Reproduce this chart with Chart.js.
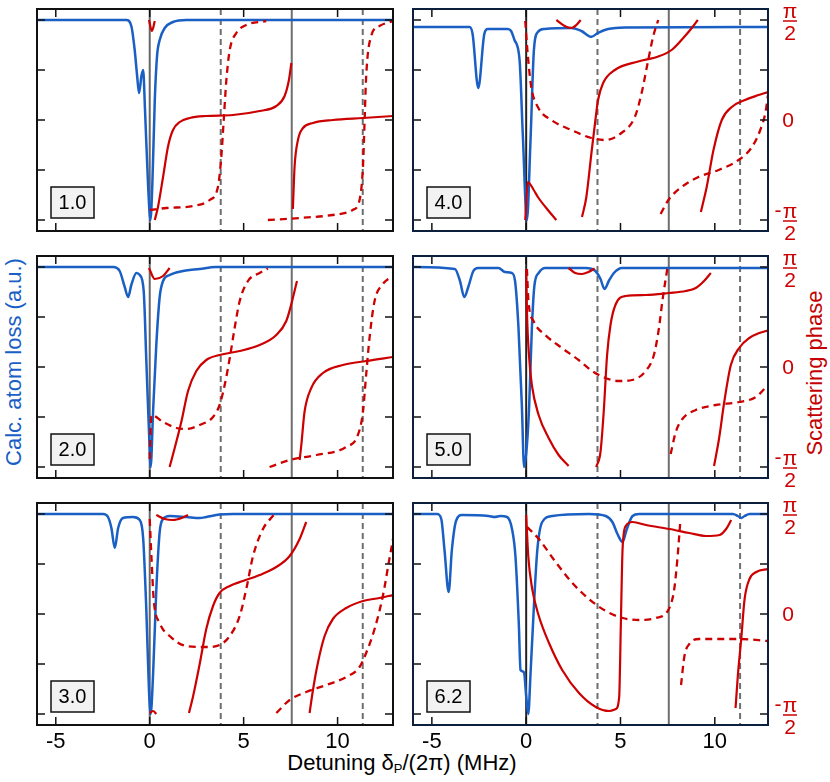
<!DOCTYPE html>
<html><head><meta charset="utf-8">
<script src="https://cdn.jsdelivr.net/npm/chart.js@4.4.1/dist/chart.umd.min.js"></script>
<style>
html,body{margin:0;padding:0;background:#fff}
body{width:830px;height:782px;position:relative;overflow:hidden;font-family:"Liberation Sans",Arial,Helvetica,sans-serif}
.cv{position:absolute}
.t{position:absolute;white-space:nowrap;font-size:22px;line-height:1}
</style></head><body>
<div class="t" style="left:14px;top:362px;color:#1a5fc4;transform:translate(-50%,-50%) rotate(-90deg)">Calc. atom loss (a.u.)</div>
<div class="t" style="left:815px;top:373px;color:#c40000;transform:translate(-50%,-50%) rotate(-90deg)">Scattering phase</div>
<div class="t" style="left:402px;top:763px;color:#000;transform:translate(-50%,-50%)">Detuning δ<sub style="font-size:13px;vertical-align:-3px">P</sub>/(2π) (MHz)</div>
<script>
// ---- shared axis values ----
const xTicks = [-5, 0, 5, 10];
const phaseTicks = [-1, -0.5, 0, 0.5, 1];           // phase in units of π/2
const phaseLabels = {'1':'π/2', '0':'0', '-1':'-π/2'};
const refLines = [0, 3.78, 7.56, 11.34];            // MHz
const panelLabels = ['1.0', '2.0', '3.0', '4.0', '5.0', '6.2'];

// ---- panel 1.0 ----
const p1Loss = [[-6,1],[-1.24,1],[-0.98,0.97],[-0.8,0.85],[-0.67,0.72],[-0.57,0.635],[-0.44,0.72],[-0.35,0.75],[-0.25,0.55],[-0.09,0.18],[0.04,0],[0.14,0.18],[0.27,0.6],[0.39,0.82],[0.53,0.9],[0.8,0.96],[1.24,0.99],[1.95,1],[13,1]];
const p1SolidA = [[-0.04,1.0],[0.12,0.89],[0.27,0.99]];
const p1SolidB = [[0.27,-1],[0.44,-0.87],[0.71,-0.57],[0.98,-0.26],[1.24,-0.1],[1.6,-0.02],[2.13,0.02],[3.0,0.04],[4.43,0.05],[5.85,0.09],[6.74,0.14],[7.18,0.24],[7.41,0.4],[7.54,0.57]];
const p1SolidC = [[7.62,-0.89],[7.71,-0.47],[7.89,-0.2],[8.16,-0.08],[8.69,-0.03],[9.75,0],[11.35,0.02],[12.95,0.04]];
const p1DashA = [[0,-0.9],[0.89,-0.88],[2.3,-0.86],[3.19,-0.8],[3.63,-0.67],[3.81,-0.37],[3.94,0],[4.08,0.4],[4.26,0.7],[4.61,0.87],[5.14,0.95],[6.2,0.99]];
const p1DashB = [[6.29,-1],[7.98,-0.98],[9.75,-0.95],[10.8,-0.9],[11.17,-0.8],[11.35,-0.47],[11.44,0],[11.52,0.43],[11.79,0.84],[12.23,0.94],[12.95,0.99]];

// ---- panel 2.0 ----
const p2Loss = [[-6,1],[-1.95,1],[-1.6,0.98],[-1.33,0.9],[-1.15,0.85],[-0.98,0.91],[-0.71,0.97],[-0.53,0.96],[-0.32,0.88],[-0.18,0.53],[-0.04,0.18],[0.05,0],[0.18,0.28],[0.35,0.61],[0.53,0.85],[0.71,0.93],[1.06,0.96],[1.77,0.98],[2.66,0.99],[3.5,1],[13,1]];
const p2SolidA = [[-0.04,0.99],[0.27,0.88],[0.71,0.91],[1.06,0.99]];
const p2SolidB = [[1.06,-1],[1.33,-0.81],[1.68,-0.55],[2.04,-0.24],[2.48,-0.04],[3.01,0.07],[3.72,0.12],[4.79,0.16],[5.85,0.22],[6.74,0.32],[7.27,0.46],[7.54,0.63],[7.71,0.76],[7.84,0.86]];
const p2SolidC = [[7.98,-0.93],[8.07,-0.78],[8.24,-0.45],[8.6,-0.21],[9.22,-0.06],[10.28,0.02],[11.52,0.06],[12.95,0.1]];
const p2DashA = [[0,-0.92],[0.05,-0.6],[0.09,-0.48],[0.71,-0.55],[1.42,-0.61],[1.95,-0.62],[2.66,-0.58],[3.37,-0.5],[3.72,-0.38],[3.99,-0.18],[4.26,0.09],[4.52,0.39],[4.79,0.66],[5.23,0.86],[5.85,0.94],[6.29,0.985]];
const p2DashB = [[6.38,-1],[7.45,-0.93],[8.87,-0.88],[10.46,-0.8],[11.08,-0.68],[11.35,-0.45],[11.52,-0.08],[11.7,0.29],[11.97,0.66],[12.41,0.83],[12.85,0.9]];

// ---- panel 3.0 ----
const p3Loss = [[-6,1],[-2.48,1],[-2.22,0.985],[-2.04,0.93],[-1.86,0.83],[-1.68,0.93],[-1.42,0.98],[-0.89,0.985],[-0.53,0.97],[-0.35,0.88],[-0.18,0.52],[-0.04,0.12],[0.05,0],[0.18,0.2],[0.35,0.62],[0.53,0.91],[0.71,0.975],[1.06,0.99],[1.95,0.985],[2.66,0.98],[3.01,0.985],[3.72,0.997],[4.43,1],[13,1]];
const p3SolidA = [[0.35,0.99],[0.8,0.95],[1.24,0.94],[1.7,0.96],[2.04,0.99]];
const p3SolidZ = [[0,-0.99],[0.18,-0.97],[0.35,-1.0]];
const p3SolidB = [[2.09,-0.99],[2.3,-0.83],[2.66,-0.5],[3.01,-0.15],[3.37,0.08],[3.72,0.21],[4.26,0.28],[4.96,0.33],[5.85,0.39],[6.74,0.47],[7.45,0.58],[7.98,0.75],[8.33,0.92]];
const p3SolidC = [[8.51,-0.99],[8.69,-0.76],[8.95,-0.49],[9.31,-0.22],[9.75,-0.05],[10.46,0.06],[11.35,0.13],[12.23,0.16],[12.95,0.19]];
const p3DashA = [[0,0.95],[0.09,0.58],[0.21,0.15],[0.53,-0.09],[1.06,-0.22],[1.95,-0.32],[3.01,-0.33],[3.72,-0.31],[4.26,-0.22],[4.79,-0.02],[5.14,0.25],[5.5,0.58],[6.03,0.85],[6.65,1.0]];
const p3DashB = [[6.74,-0.99],[7.45,-0.86],[8.33,-0.78],[9.4,-0.71],[10.46,-0.63],[11.17,-0.53],[11.52,-0.39],[11.97,-0.15],[12.41,0.18],[12.73,0.52],[12.95,0.75]];

// ---- panel 4.0 ----
const p4Loss = [[-6,0.965],[-3.0,0.965],[-2.84,0.93],[-2.54,0.66],[-2.22,0.93],[-2.04,0.955],[-0.98,0.955],[-0.8,0.945],[-0.62,0.9],[-0.35,0.8],[-0.18,0.43],[0.04,0],[0.23,0.4],[0.41,0.85],[0.62,0.94],[0.98,0.955],[2.39,0.96],[2.93,0.945],[3.46,0.916],[3.81,0.936],[4.34,0.955],[5.23,0.963],[13,0.965]];
const p4SolidA = [[1.6,1.0],[2.04,0.94],[2.39,0.92],[2.66,0.95],[2.89,1.0]];
const p4SolidB = [[-0.05,-1.0],[0.09,-0.62],[0.4,-0.7],[0.62,-0.77],[1.15,-0.9],[1.6,-1.0]];
const p4SolidC = [[2.96,-0.97],[3.19,-0.77],[3.46,-0.33],[3.67,0],[3.81,0.2],[4.08,0.37],[4.7,0.5],[5.94,0.585],[7.0,0.635],[7.71,0.7],[8.42,0.84],[8.78,0.92],[9.1,1.0]];
const p4SolidD = [[9.26,-0.92],[9.57,-0.67],[9.93,-0.3],[10.37,0],[10.9,0.13],[11.6,0.2],[12.32,0.25],[12.82,0.28]];
const p4DashA = [[-0.05,0.99],[0.09,0.64],[0.27,0.33],[0.62,0.13],[1.33,0],[2.39,-0.1],[3.46,-0.18],[4.17,-0.2],[5.05,-0.13],[5.76,0.03],[6.12,0.27],[6.47,0.6],[6.74,0.84],[7.0,1.0]];
const p4DashB = [[7.13,-0.94],[7.54,-0.8],[8.24,-0.67],[9.13,-0.57],[10.2,-0.5],[11.26,-0.4],[11.97,-0.27],[12.41,-0.1],[12.68,0.07],[12.82,0.25]];

// ---- panel 5.0 ----
const p5Loss = [[-6,1],[-3.78,0.99],[-3.51,0.93],[-3.28,0.85],[-3.07,0.9],[-2.8,0.98],[-2.54,0.995],[-1.47,0.995],[-1.12,0.975],[-0.76,0.97],[-0.59,0.93],[-0.41,0.7],[-0.23,0.31],[-0.11,0],[0.04,0.11],[0.16,0.31],[0.3,0.69],[0.44,0.91],[0.66,0.97],[1.01,0.995],[3.14,0.995],[3.67,0.98],[3.94,0.94],[4.15,0.89],[4.38,0.93],[4.65,0.97],[5.09,0.995],[13,0.995]];
const p5SolidA = [[2.25,0.99],[2.6,0.94],[2.96,0.93],[3.3,0.95],[3.63,0.985]];
const p5SolidB = [[0,0.98],[0.04,0.56],[0.16,0.09],[0.3,-0.18],[0.66,-0.48],[1.19,-0.71],[1.72,-0.88],[2.25,-0.99]];
const p5SolidC = [[3.71,-1],[3.94,-0.85],[4.11,-0.45],[4.29,0.12],[4.47,0.42],[4.73,0.62],[5.27,0.71],[6.33,0.72],[7.57,0.74],[8.46,0.76],[8.99,0.79],[9.43,0.86],[9.79,0.94]];
const p5SolidD = [[9.96,-0.99],[10.23,-0.71],[10.5,-0.35],[10.85,0.02],[11.29,0.19],[11.83,0.29],[12.36,0.34],[12.82,0.365]];
const p5DashA = [[0.04,0.98],[0.12,0.66],[0.39,0.46],[1.01,0.32],[1.9,0.19],[2.78,0.07],[3.49,-0.04],[4.2,-0.11],[4.91,-0.14],[5.62,-0.13],[6.33,-0.04],[6.77,0.12],[7.04,0.39],[7.22,0.66],[7.48,0.98]];
const p5DashB = [[7.66,-0.87],[7.93,-0.65],[8.28,-0.52],[8.99,-0.43],[10.05,-0.38],[11.29,-0.35],[12.18,-0.3],[12.82,-0.18]];

// ---- panel 6.2 ----
const p6Loss = [[-6,1],[-4.73,1],[-4.5,0.975],[-4.33,0.82],[-4.11,0.61],[-3.94,0.82],[-3.72,0.965],[-3.4,0.995],[-1.99,0.99],[-1.67,0.985],[-1.37,0.99],[-1.01,0.985],[-0.74,0.92],[-0.57,0.79],[-0.39,0.45],[-0.3,0.22],[-0.12,0.21],[0,0.09],[0.11,0],[0.23,0.2],[0.41,0.54],[0.59,0.82],[0.85,0.96],[1.38,0.99],[3.33,1],[4.22,0.99],[4.57,0.96],[4.84,0.9],[5.11,0.86],[5.32,0.92],[5.64,0.99],[5.99,1],[10.96,1],[11.22,0.99],[11.4,0.98],[11.58,0.99],[11.84,1],[13,1]];
const p6SolidA = [[0,0.99],[0.11,0.58],[0.32,0.25],[0.67,-0.02],[1.21,-0.29],[1.91,-0.56],[2.8,-0.79],[3.69,-0.93],[4.4,-0.97],[4.75,-0.95],[4.93,-0.83],[5.02,-0.09],[5.11,0.65],[5.28,0.88],[5.64,0.92],[6.35,0.89],[7.59,0.85],[8.65,0.81],[9.54,0.78],[10.25,0.79],[10.6,0.85],[10.87,0.94]];
const p6SolidB = [[11.1,-0.94],[11.22,-0.62],[11.4,-0.25],[11.58,0.15],[11.84,0.35],[12.2,0.42],[12.82,0.45]];
const p6DashA = [[0.05,0.87],[0.67,0.75],[1.56,0.52],[2.45,0.31],[3.33,0.15],[4.22,0.03],[5.11,-0.04],[5.99,-0.06],[6.88,-0.04],[7.59,0.06],[7.85,0.25],[8.03,0.58],[8.16,0.9]];
const p6DashB = [[8.21,-0.71],[8.39,-0.42],[8.65,-0.3],[9.18,-0.25],[10.43,-0.25],[11.31,-0.25],[12.82,-0.27]];

// ---- styling / layout ----
const BLUE = '#1a5fc4', RED = '#cc0000', GRAY = '#6e6e6e';
const FONT = '"Liberation Sans", Arial, Helvetica, sans-serif';
const PAD = 4;
const panels = [
  {loss:p1Loss, solid:[p1SolidA,p1SolidB,p1SolidC], dash:[p1DashA,p1DashB], col:0, row:0},
  {loss:p2Loss, solid:[p2SolidA,p2SolidB,p2SolidC], dash:[p2DashA,p2DashB], col:0, row:1},
  {loss:p3Loss, solid:[p3SolidA,p3SolidZ,p3SolidB,p3SolidC], dash:[p3DashA,p3DashB], col:0, row:2},
  {loss:p4Loss, solid:[p4SolidA,p4SolidB,p4SolidC,p4SolidD], dash:[p4DashA,p4DashB], col:1, row:0},
  {loss:p5Loss, solid:[p5SolidA,p5SolidB,p5SolidC,p5SolidD], dash:[p5DashA,p5DashB], col:1, row:1},
  {loss:p6Loss, solid:[p6SolidA,p6SolidB], dash:[p6DashA,p6DashB], col:1, row:2},
];
const colGeom = [{left:37, w:356, xmax:12.95, frame:'#111', zero:'#666'}, {left:413, w:355, xmax:12.82, frame:'#0d1f3f', zero:'#222'}];
const rowTops = [9, 256, 503];
const PH = 222;

function drawFrac(ctx, cx, y, neg){
  ctx.font = '21px ' + FONT;
  ctx.fillStyle = RED; ctx.strokeStyle = RED;
  ctx.textAlign = 'center';
  ctx.textBaseline = 'alphabetic';
  ctx.fillText('π', cx, y - 2);
  ctx.textBaseline = 'top';
  ctx.fillText('2', cx, y + 4);
  ctx.lineWidth = 1.5; ctx.setLineDash([]);
  ctx.beginPath(); ctx.moveTo(cx - 7, y + 1); ctx.lineTo(cx + 7, y + 1); ctx.stroke();
  if (neg){ ctx.textBaseline = 'middle'; ctx.fillText('-', cx - 12, y - 9); }
}

const deco = {
  id: 'deco',
  beforeDatasetsDraw(chart, args, o){
    const {ctx, chartArea:a, scales:{x}} = chart;
    ctx.save();
    refLines.forEach((v, i) => {
      const px = x.getPixelForValue(v);
      ctx.beginPath();
      ctx.lineWidth = 2;
      ctx.strokeStyle = i === 0 ? o.zero : GRAY;
      ctx.setLineDash(i % 2 ? [6, 4] : []);
      ctx.moveTo(px, a.top); ctx.lineTo(px, a.bottom); ctx.stroke();
    });
    ctx.restore();
  },
  afterDatasetsDraw(chart, args, o){
    const {ctx, chartArea:a, scales:{x, yP}} = chart;
    ctx.save();
    ctx.setLineDash([]);
    ctx.strokeStyle = '#111'; ctx.lineWidth = 1.5;
    const seg = (x1,y1,x2,y2) => { ctx.beginPath(); ctx.moveTo(x1,y1); ctx.lineTo(x2,y2); ctx.stroke(); };
    xTicks.forEach(v => { const px = x.getPixelForValue(v); seg(px, a.top, px, a.top + 8); seg(px, a.bottom, px, a.bottom - 8); });
    phaseTicks.forEach(v => { const py = yP.getPixelForValue(v); seg(a.left, py, a.left + 8, py); seg(a.right, py, a.right - 8, py); });
    ctx.strokeStyle = o.frame; ctx.lineWidth = 2;
    ctx.strokeRect(a.left, a.top, a.right - a.left, a.bottom - a.top);
    // panel label box
    const bx = a.left + 14, bw = 43, bh = 31, by = a.bottom - 13 - bh;
    ctx.fillStyle = '#f2f2f2'; ctx.fillRect(bx, by, bw, bh);
    ctx.strokeStyle = '#111'; ctx.lineWidth = 1.5; ctx.strokeRect(bx, by, bw, bh);
    ctx.fillStyle = '#000'; ctx.font = '20px ' + FONT; ctx.textAlign = 'center'; ctx.textBaseline = 'middle';
    ctx.fillText(o.label, bx + bw / 2, by + bh / 2 + 1);
    // right phase labels
    if (o.rightLabels){
      const cx = a.right + 22;
      drawFrac(ctx, cx, yP.getPixelForValue(1), false);
      ctx.font = '21px ' + FONT; ctx.fillStyle = RED; ctx.textAlign = 'center'; ctx.textBaseline = 'middle';
      ctx.fillText(phaseLabels['0'], cx - 2, yP.getPixelForValue(0) + 1);
      drawFrac(ctx, cx, yP.getPixelForValue(-1), true);
    }
    ctx.restore();
  }
};

panels.forEach((p, idx) => {
  const g = colGeom[p.col];
  const bottom = p.row === 2, right = p.col === 1;
  const extraR = right ? 50 : 0;
  const extraB = bottom ? 34 : 0;
  const labelRoom = (right && !bottom) ? 22 : 0;   // room below the plot for the -π/2 label
  const W = g.w + 2 * PAD + extraR, H = PH + 2 * PAD + extraB + labelRoom;
  const cv = document.createElement('canvas');
  cv.className = 'cv';
  cv.width = W; cv.height = H;
  cv.style.width = W + 'px'; cv.style.height = H + 'px';
  cv.style.left = (g.left - PAD) + 'px'; cv.style.top = (rowTops[p.row] - PAD) + 'px';
  document.body.appendChild(cv);
  const common = {pointRadius:0, fill:false, cubicInterpolationMode:'monotone', borderCapStyle:'butt', borderJoinStyle:'round'};
  const datasets = [
    ...p.solid.map(s => ({...common, data:s, yAxisID:'yP', borderColor:RED, borderWidth:2.2})),
    ...p.dash.map(s => ({...common, data:s, yAxisID:'yP', borderColor:RED, borderWidth:2.3, borderDash:[7,5]})),
    {...common, data:p.loss, yAxisID:'yL', borderColor:BLUE, borderWidth:2.5},
  ];
  new Chart(cv, {
    type: 'line',
    data: {datasets},
    options: {
      responsive:false, animation:false, events:[],
      layout:{padding:{left:PAD, top:PAD, right:PAD + extraR, bottom:PAD + labelRoom}},
      scales:{
        x:{type:'linear', min:-6, max:g.xmax, display:bottom,
           grid:{display:false, drawTicks:false}, border:{display:false},
           afterBuildTicks: s => { s.ticks = xTicks.map(v => ({value:v})); },
           afterFit: s => { s.height = bottom ? 34 : 0; },
           ticks:{color:'#000', padding:4, font:{size:22, family:FONT}, maxRotation:0, autoSkip:false}},
        yP:{type:'linear', position:'right', min:-1.11, max:1.11, display:false},
        yL:{type:'linear', position:'left', min:-0.055, max:1.055, display:false},
      },
      plugins:{legend:{display:false}, tooltip:{enabled:false},
        deco:{label:panelLabels[idx], frame:g.frame, zero:g.zero, rightLabels:right}}
    },
    plugins:[deco]
  });
});
</script>
</body></html>
